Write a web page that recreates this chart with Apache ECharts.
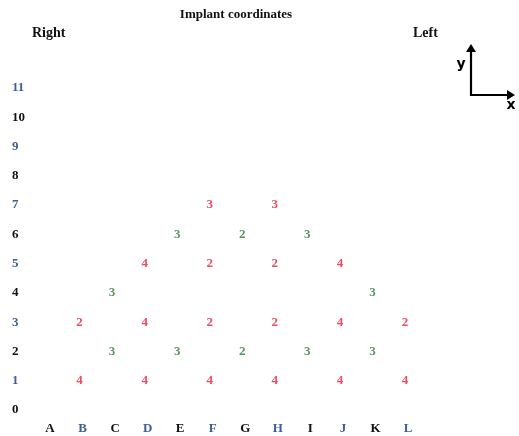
<!DOCTYPE html>
<html>
<head>
<meta charset="utf-8">
<script src="https://cdn.jsdelivr.net/npm/echarts@6/dist/echarts.min.js"></script>
<style>html,body{margin:0;padding:0;background:#fff}#c{width:519px;height:436px}</style>
</head>
<body>
<div id="c"></div>
<script>
var columns = ['A','B','C','D','E','F','G','H','I','J','K','L'];
var rowTicks = [0,1,2,3,4,5,6,7,8,9,10,11];
// [column, row, number]
var redPoints = [
  ['B',1,4],['D',1,4],['F',1,4],['H',1,4],['J',1,4],['L',1,4],
  ['B',3,2],['D',3,4],['F',3,2],['H',3,2],['J',3,4],['L',3,2],
  ['D',5,4],['F',5,2],['H',5,2],['J',5,4],
  ['F',7,3],['H',7,3]
];
var greenPoints = [
  ['C',2,3],['E',2,3],['G',2,2],['I',2,3],['K',2,3],
  ['C',4,3],['K',4,3],
  ['E',6,3],['G',6,2],['I',6,3]
];
var titleText = 'Implant coordinates';
var rightText = 'Right';
var leftText = 'Left';

var BLUE = '#3f5f94', BLACK = '#111111', RED = '#e8203a', GREEN = '#2c7a33';
var serif = '"Liberation Serif","Times New Roman",serif';

var chart = echarts.init(document.getElementById('c'));
function pts(arr){ return arr.map(function(p){ return [columns.indexOf(p[0]), p[1], p[2]]; }); }
function ptSeries(arr, color){
  return {
    type: 'scatter',
    data: pts(arr),
    symbolSize: 2,
    itemStyle: { color: 'rgba(0,0,0,0)' },
    label: {
      show: true, position: [-2, 1], align: 'center', verticalAlign: 'middle',
      formatter: function(p){ return '{n|' + p.value[2] + '}'; },
      rich: { n: { color: color, fontFamily: serif, fontWeight: 900, fontSize: 13 } }
    },
    silent: true
  };
}
chart.setOption({
  animation: false,
  backgroundColor: '#fff',
  grid: { left: 33.75, right: 94.75, top: 88, bottom: 26 },
  xAxis: {
    type: 'category', data: columns, boundaryGap: true,
    axisLine: { show: false }, axisTick: { show: false }, splitLine: { show: false },
    axisLabel: {
      margin: 12, fontFamily: serif, fontWeight: 'bold', fontSize: 13,
      color: function(v, i){ return i % 2 ? BLUE : BLACK; }
    }
  },
  yAxis: {
    type: 'value', min: 0, max: 11, interval: 1,
    axisLine: { show: false }, axisTick: { show: false }, splitLine: { show: false },
    axisLabel: {
      align: 'left', margin: 21.75, fontFamily: serif, fontWeight: 'bold', fontSize: 13,
      formatter: function(v){ return rowTicks.indexOf(v) >= 0 ? String(v) : ''; },
      color: function(v){ return (+v) % 2 ? BLUE : BLACK; }
    }
  },
  series: [ ptSeries(redPoints, RED), ptSeries(greenPoints, GREEN) ],
  graphic: [
    { type: 'text', style: { x: 236, y: 15, text: titleText, textAlign: 'center', textVerticalAlign: 'middle', font: 'bold 13px ' + serif, fill: BLACK } },
    { type: 'text', style: { x: 32, y: 33, text: rightText, textAlign: 'left', textVerticalAlign: 'middle', font: 'bold 14px ' + serif, fill: BLACK } },
    { type: 'text', style: { x: 413, y: 33, text: leftText, textAlign: 'left', textVerticalAlign: 'middle', font: 'bold 14px ' + serif, fill: BLACK } },
    { type: 'polyline', shape: { points: [[471,49],[471,95],[510,95]] }, style: { stroke: '#000', lineWidth: 2.2, fill: null } },
    { type: 'polygon', shape: { points: [[471,44],[466,52],[476,52]] }, style: { fill: '#000' } },
    { type: 'polygon', shape: { points: [[515,95],[507,90],[507,100]] }, style: { fill: '#000' } },
    { type: 'text', style: { x: 461, y: 64, text: 'y', textAlign: 'center', textVerticalAlign: 'middle', font: 'bold 14px "DejaVu Sans",sans-serif', fill: '#000' } },
    { type: 'text', style: { x: 511, y: 105, text: 'x', textAlign: 'center', textVerticalAlign: 'middle', font: 'bold 14px "DejaVu Sans",sans-serif', fill: '#000' } }
  ]
});
</script>
</body>
</html>
